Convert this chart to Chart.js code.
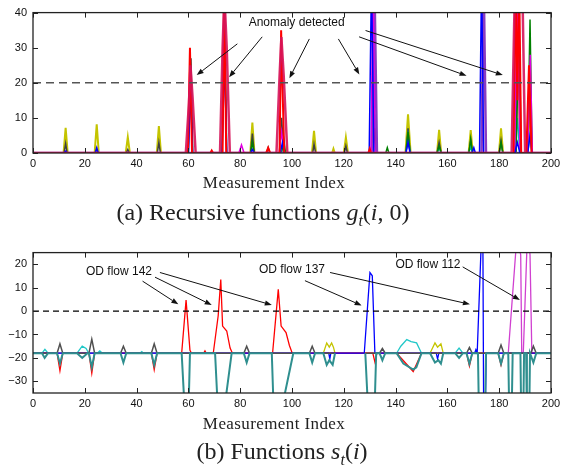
<!DOCTYPE html>
<html><head><meta charset="utf-8">
<script src="https://cdn.jsdelivr.net/npm/chart.js@4.4.1/dist/chart.umd.min.js"></script>
<style>
html,body{margin:0;padding:0;background:#fff;}
#wrap{position:relative;width:570px;height:470px;overflow:hidden;background:#fff;}
canvas{position:absolute;left:0;}
.cap{position:absolute;width:400px;text-align:center;font-family:"Liberation Serif","Times New Roman",serif;color:#222;white-space:nowrap;}
</style></head><body>
<div id="wrap">
<canvas id="cg" width="570" height="175" style="top:0;width:570px;height:175px"></canvas>
<canvas id="cs" width="570" height="175" style="top:240px;width:570px;height:175px"></canvas>
<div class="cap" style="left:74px;top:173px;font-size:17px;letter-spacing:0.4px">Measurement Index</div>
<div class="cap" style="left:63px;top:199px;font-size:24px">(a) Recursive functions <i>g</i><sub style="font-size:16px"><i>t</i></sub>(<i>i</i>, 0)</div>
<div class="cap" style="left:74px;top:414px;font-size:17px;letter-spacing:0.4px">Measurement Index</div>
<div class="cap" style="left:82px;top:438px;font-size:24px">(b) Functions <i>s</i><sub style="font-size:16px"><i>t</i></sub>(<i>i</i>)</div>
</div>
<script>
// ---------- tick labels ----------
const X_TICKS = [0, 20, 40, 60, 80, 100, 120, 140, 160, 180, 200];
const G_Y_TICKS = [0, 10, 20, 30, 40];
const S_Y_TICKS = [-30, -20, -10, 0, 10, 20];

// ---------- (a) g_t(i,0) series : [index, value] ----------
const G_THRESH = [[0, 20], [200, 20]];
const G_CRIMSON = [[0,0],[59,0],[60.2,14],[60.8,25],[61.6,16],[62.8,0],[72.2,0],[73.2,30],[73.9,45],[74.8,30],[76,0],[94,0],[95.2,22],[95.9,33],[96.8,22],[98.2,0],[184.8,0],[186,45],[189,45],[190,0],[200,0]];
const G_RED = [[0,0],[59.8,0],[60.6,30],[61.4,0],[68.5,0],[69,0.7],[69.5,0],[73.2,0],[73.8,48],[74.6,0],[90,0],[90.8,1.5],[91.6,0],[95.2,0],[95.8,35],[96.3,20],[97,0],[129.5,0],[130,1.2],[130.5,0],[185.5,0],[186.3,50],[187,15],[187.7,50],[188.5,0],[190.5,0],[191.5,25],[192.5,0],[200,0]];
const G_BLUE = [[0,0],[12,0],[12.6,0.5],[13.2,0],[24,0],[24.6,1.5],[25.2,0],[60,0],[60.9,18],[61.6,0],[73,0],[74,27],[74.8,0],[84,0],[84.7,1],[85.4,0],[95.5,0],[96.3,3],[97,0],[129.8,0],[130.7,50],[131.6,0],[144,0],[144.8,3],[145.6,0],[169.5,0],[170.2,1.5],[170.8,0],[172.4,0],[173.2,50],[174,0],[186,0],[187,3],[188,0],[191,0],[191.9,5],[192.6,0],[200,0]];
const G_MAGENTA = [[0,0],[79.5,0],[80.5,2.3],[81.5,0],[95,0],[96,6],[97,0],[130.5,0],[131.3,50],[132.1,0],[186,0],[187,50],[188,0],[191,0],[192,28],[192.8,0],[200,0]];
const G_PURPLE = [[0,0],[130.8,0],[131.8,50],[132.8,0],[173.2,0],[174,50],[174.9,0],[200,0]];
const G_GREEN = [[0,0],[84,0],[84.7,3],[85.4,0],[96,0],[96.8,4],[97.5,0],[131,0],[132,7],[132.8,0],[136.2,0],[136.8,1.5],[137.4,0],[144,0],[144.8,6],[145.6,0],[156,0],[156.8,2],[157.6,0],[168.3,0],[169,4],[169.7,0],[180,0],[180.7,3],[181.4,0],[186.5,0],[187.5,30],[188.3,0],[191,0],[191.9,38],[192.7,0],[200,0]];
const G_CYAN = [[0,0],[131,0],[132,11],[132.8,0],[144,0],[144.8,5],[145.6,0],[156,0],[156.8,1.5],[157.6,0],[168.3,0],[169,2],[169.7,0],[186,0],[187,10],[188,0],[191,0],[191.9,5],[192.7,0],[200,0]];
const G_GRAY = [[0,0],[12,0],[12.6,2.7],[13.2,0],[24,0],[24.6,1],[25.2,0],[36,0],[36.6,1],[37.2,0],[48,0],[48.6,3],[49.2,0],[60,0],[61,27],[61.7,0],[73,0],[73.9,45],[74.8,0],[84,0],[84.7,5.5],[85.4,0],[90.2,0],[90.8,1.5],[91.4,0],[95.2,0],[96,10],[96.8,0],[108,0],[108.5,2.5],[109.1,0],[120.2,0],[120.8,2],[121.4,0],[130.5,0],[131.5,8],[132.5,0],[144,0],[144.8,7],[145.6,0],[156,0],[156.8,3],[157.6,0],[168.3,0],[169,3.5],[169.7,0],[180,0],[180.7,3.5],[181.4,0],[186.5,0],[187.5,45],[188.5,0],[191,0],[191.9,20],[192.7,0],[200,0]];
const G_YELLOW = [[0,0],[11.8,0],[12.6,7.2],[13.4,0],[23.8,0],[24.6,8.2],[25.4,0],[35.8,0],[36.6,4.5],[37.4,0],[47.8,0],[48.6,7.7],[49.4,0],[83.9,0],[84.7,8.7],[85.5,0],[107.7,0],[108.5,6.3],[109.3,0],[115.5,0],[116,1.2],[116.5,0],[120,0],[120.8,4.4],[121.6,0],[143.8,0],[144.8,11],[145.8,0],[156,0],[156.8,6.6],[157.6,0],[168.2,0],[169,6.5],[169.8,0],[179.9,0],[180.7,7],[181.5,0],[186,0],[187,50],[188,0],[191,0],[191.9,13],[192.7,0],[200,0]];

// ---------- (b) s_t(i) series ----------
const S_THRESH = [[0, 0], [200, 0]];
const S_TEAL = [[0,-18],[3.5,-18],[4.5,-20],[5.8,-18],[9.3,-18],[10.4,-22.5],[11.5,-18],[17,-18],[19,-20],[21,-18],[21.6,-18],[22.7,-24],[23.8,-18],[33.8,-18],[34.9,-22],[36,-18],[45.7,-18],[46.8,-23],[47.9,-18],[57.4,-18],[58.7,-45],[60,-45],[60.6,-18],[70.3,-18],[71.5,-45],[73.5,-45],[76.7,-18],[81.4,-18],[82.5,-22],[83.6,-18],[92.2,-18],[93,-45],[95.4,-45],[100.5,-18],[106.7,-18],[107.8,-22],[108.9,-18],[112.1,-18],[113.4,-23],[114.4,-21],[115.7,-23],[116.6,-18],[117,null],[128.3,-18],[129.5,-45],[131.8,-45],[132.5,-18],[133.8,-18],[134.9,-21],[136,-18],[140.4,-18],[143,-22.4],[146.8,-25],[148,-24],[150,-18],[153.3,-18],[155.2,-22],[156.5,-21],[157.5,-22.5],[158.4,-18],[163,-18],[164.5,-20],[166,-18],[167.4,-18],[168.5,-22.5],[169.6,-18],[171.8,-18],[172.2,-45],[174.5,-45],[174.9,-18],[179.6,-18],[180.7,-22.5],[181.8,-18],[183.5,-18],[183.9,-45],[184.8,-45],[185.2,-18],[188.2,-18],[188.5,-45],[189.3,-45],[189.6,-18],[190.4,-18],[190.7,-45],[191.6,-45],[191.9,-18],[192.2,-18],[193.2,-22],[194.3,-18],[200,-18]];
const S_GRAY = [[0,-18],[9.3,-18],[10.4,-14],[11.5,-18],[21.6,-18],[22.7,-12],[23.8,-18],[33.8,-18],[34.9,-15],[36,-18],[45.7,-18],[46.8,-14],[47.9,-18],[81.4,-18],[82.5,-15],[83.6,-18],[106.7,-18],[107.8,-15],[108.9,-18],[116.6,-18],[117,null],[128.3,-18],[133.8,-18],[134.9,-16],[136,-18],[167.4,-18],[168.5,-15.5],[169.6,-18],[179.6,-18],[180.7,-14.5],[181.8,-18],[192.2,-18],[193.2,-15],[194.3,-18],[200,-18]];
const S_BLUE = [[0,-18],[114.2,-18],[114.6,-20.5],[115,-18],[127.9,-18],[130.1,16.5],[131,15.1],[132,-18],[155.7,-18],[156.2,-20.5],[156.7,-18],[170.5,-18],[171,-16.5],[171.5,-18],[171.8,-18],[173.1,30],[173.7,30],[174,-45],[174.6,-45],[175,-18],[200,-18]];
const S_RED = [[0,-18],[9.3,-18],[10.4,-25.5],[11.5,-18],[21.6,-18],[22.7,-26.5],[23.8,-18],[45.7,-18],[46.8,-25],[47.9,-18],[57.4,-18],[59.1,4.7],[60.6,-16.8],[61.2,-18],[65.9,-18],[66.4,-17],[66.9,-18],[69.6,-18],[71.5,-2],[72.5,13.5],[73.2,-6.4],[74.8,-8.5],[76.1,-15.8],[77,-18],[92.5,-18],[94.7,9.3],[95.8,-6.4],[97.7,-9.2],[99,-14.7],[100.1,-18],[131.2,-18],[132,-21.7],[132.8,-18],[140.4,-18],[146.8,-25.8],[150,-18],[167.4,-18],[168.5,-23.5],[169.6,-18],[179.6,-18],[180.7,-23],[181.8,-18],[200,-18]];
const S_MAGENTA = [[0,-18],[183.5,-18],[186.7,30],[187.2,30],[188.3,24],[188.7,-18],[189.3,-18],[190.8,30],[191.4,30],[191.9,24],[192.6,-18],[200,-18]];
const S_YELLOW = [[0,-18],[112.1,-18],[113.4,-13.6],[114.4,-15.4],[115.3,-13.6],[116,-15.4],[116.6,-18],[153.3,-18],[155.2,-13.6],[156.2,-15.4],[157.5,-14],[158.4,-18],[200,-18]];
const S_CYAN = [[0,-18],[3.5,-18],[4.6,-16.3],[5.8,-18],[17,-18],[19,-15],[20.5,-16],[21.5,-18],[24.8,-18],[25.8,-17],[26.8,-18],[41.3,-18],[42,-17.3],[42.7,-18],[140.4,-18],[142,-15],[144.3,-12.2],[146,-13],[148.1,-13.6],[150,-18],[163,-18],[164.5,-15.8],[166,-18],[200,-18]];

// ---------- annotations (data units) ----------
const G_LABELS = [{text: 'Anomaly detected', x: 101.8, y: 37.1}];
const G_ARROWS = [[78.9,31.1,63.2,22.2],[88.5,33.1,75.7,21.6],[106.7,32.5,99,21.3],[117.9,32.5,126,22.4],[125.9,33.1,167.4,22.0],[128.4,34.9,181.4,22.2]];
const S_LABELS = [{text:'OD flow 142', x:33.2, y:16.7},{text:'OD flow 137', x:100, y:17.9},{text:'OD flow 112', x:152.5, y:19.7}];
const S_ARROWS = [[42.3,12.8,56.1,2.9],[47.1,14.5,69,2.6],[49,16.5,92.2,2.6],[105,13.0,126.9,2.4],[114.7,16.5,168.7,2.9],[165.9,18.9,188,4.7]];

const pts = a => a.map(([x, y]) => ({x, y}));

function drawArrow(ctx, x0, y0, x1, y1) {
  const ang = Math.atan2(y1 - y0, x1 - x0), L = 7, W = 2.6;
  const bx = x1 - L * Math.cos(ang), by = y1 - L * Math.sin(ang);
  ctx.beginPath(); ctx.moveTo(x0, y0); ctx.lineTo(bx, by); ctx.stroke();
  ctx.beginPath(); ctx.moveTo(x1, y1);
  ctx.lineTo(bx + W * Math.sin(ang), by - W * Math.cos(ang));
  ctx.lineTo(bx - W * Math.sin(ang), by + W * Math.cos(ang));
  ctx.closePath(); ctx.fill();
}

const framePlugin = {
  id: 'frame',
  afterDatasetsDraw(chart, args, opts) {
    const {ctx, chartArea: a, scales: {x, y}} = chart;
    ctx.save();
    ctx.fillStyle = '#111'; ctx.strokeStyle = '#111'; ctx.lineWidth = 1;
    ctx.font = '12px "Liberation Sans", Arial, sans-serif';
    ctx.textAlign = 'center'; ctx.textBaseline = 'middle';
    for (const l of opts.labels) {
      const tx = x.getPixelForValue(l.x), ty = y.getPixelForValue(l.y);
      const w = ctx.measureText(l.text).width;
      ctx.fillStyle = '#fff'; ctx.fillRect(tx - w / 2 - 1, ty - 7, w + 2, 14);
      ctx.fillStyle = '#111'; ctx.fillText(l.text, tx, ty);
    }
    for (const [x0, y0, x1, y1] of opts.arrows) {
      drawArrow(ctx, x.getPixelForValue(x0), y.getPixelForValue(y0), x.getPixelForValue(x1), y.getPixelForValue(y1));
    }
    // box + inward ticks
    ctx.strokeStyle = '#222'; ctx.lineWidth = 1.3;
    ctx.strokeRect(a.left, a.top, a.right - a.left, a.bottom - a.top);
    ctx.lineWidth = 1;
    ctx.beginPath();
    for (const t of opts.xticks) {
      const px = Math.round(x.getPixelForValue(t)) + 0.5;
      ctx.moveTo(px, a.bottom); ctx.lineTo(px, a.bottom - 5);
      ctx.moveTo(px, a.top); ctx.lineTo(px, a.top + 5);
    }
    for (const t of opts.yticks) {
      const py = Math.round(y.getPixelForValue(t)) + 0.5;
      ctx.moveTo(a.left, py); ctx.lineTo(a.left + 5, py);
      ctx.moveTo(a.right, py); ctx.lineTo(a.right - 5, py);
    }
    ctx.stroke();
    ctx.restore();
  }
};

function ds(data, color, width, extra) {
  return Object.assign({data: pts(data), borderColor: color, borderWidth: width, pointRadius: 0, showLine: true, tension: 0, fill: false, spanGaps: false}, extra || {});
}

const tickFont = {family: '"Liberation Sans", Arial, sans-serif', size: 11};
const fmt = v => (v < 0 ? '\u2212' + Math.abs(v) : String(v));

function makeChart(id, datasets, ymin, ymax, yticks, labels, arrows, topPad) {
  return new Chart(document.getElementById(id), {
    type: 'scatter',
    data: {datasets},
    plugins: [framePlugin],
    options: {
      responsive: false, animation: false, events: [],
      layout: {padding: {top: topPad, right: 19, left: 0, bottom: 0}},
      plugins: {legend: {display: false}, tooltip: {enabled: false},
        frame: {labels, arrows, xticks: X_TICKS, yticks}},
      scales: {
        x: {type: 'linear', min: 0, max: 200,
          afterBuildTicks: s => { s.ticks = X_TICKS.map(v => ({value: v})); },
          afterFit: s => { s.height = 22; },
          grid: {display: false, drawTicks: false}, border: {display: false},
          ticks: {font: tickFont, color: '#111', padding: 4, maxRotation: 0, autoSkip: false, callback: v => fmt(v)}},
        y: {type: 'linear', min: ymin, max: ymax,
          afterBuildTicks: s => { s.ticks = yticks.map(v => ({value: v})); },
          afterFit: s => { s.width = 33; },
          grid: {display: false, drawTicks: false}, border: {display: false},
          ticks: {font: tickFont, color: '#111', padding: 6, autoSkip: false, callback: v => fmt(v)}}
      }
    }
  });
}

makeChart('cg', [
  ds(G_THRESH, '#555', 1.5, {borderDash: [8, 5]}),
  ds(G_CRIMSON, 'rgba(214,20,90,0.9)', 2.5),
  ds(G_RED, '#ff0000', 2),
  ds(G_BLUE, '#0000ff', 1.5),
  ds(G_MAGENTA, '#e000e0', 1.5),
  ds(G_PURPLE, '#8a3cc0', 2.5),
  ds(G_GREEN, '#008000', 1.5),
  ds(G_CYAN, '#00bfbf', 1.5),
  ds(G_GRAY, '#404040', 1.5),
  ds(G_YELLOW, '#c4c400', 2)
], 0, 40, G_Y_TICKS, G_LABELS, G_ARROWS, 7);

makeChart('cs', [
  ds(S_THRESH, '#000', 1.2, {borderDash: [6, 4]}),
  ds(S_TEAL, '#2f8f8f', 2),
  ds(S_GRAY, '#505050', 1.5),
  ds(S_BLUE, '#0000ff', 1.3),
  ds(S_RED, '#ff0000', 1.3),
  ds(S_MAGENTA, '#d040d0', 1.3),
  ds(S_YELLOW, '#c4c400', 1.3),
  ds(S_CYAN, '#20c8c8', 1.3)
], -35, 25, S_Y_TICKS, S_LABELS, S_ARROWS, 8);
</script>
</body></html>
